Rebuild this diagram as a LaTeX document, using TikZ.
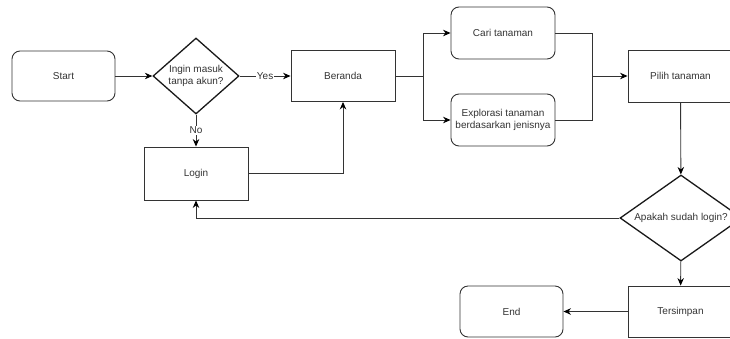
\documentclass[tikz,border=0pt]{standalone}
\usepackage{fontspec}
\setmainfont{Liberation Sans}
\usetikzlibrary{shapes.geometric,arrows.meta}

\tikzset{
	box/.style={draw=black!80, line width=0.9pt, minimum width=104pt, minimum height=52pt, inner sep=0pt, text=black!80, font=\fontsize{10}{12}\selectfont, align=center},
	roundbox/.style={box, rounded corners=8pt},
	decision/.style={draw=black!90, line width=1.3pt, diamond, inner sep=0pt, text=black!80, font=\fontsize{10}{12}\selectfont, align=center},
	flow/.style={draw=black!80, line width=0.9pt, ->},
	lbl/.style={fill=white, inner sep=1pt, text=black!80, font=\fontsize{10}{12}\selectfont},
	>={Stealth[length=7.5pt,width=6.5pt,color=black]}
}

\begin{document}
\begin{tikzpicture}[x=1pt, y=-1pt]
	\useasboundingbox (0,0) rectangle (730,338);
	\clip (0,0) rectangle (730,338);

	% Top row
	\node[roundbox, minimum width=103pt, minimum height=50pt] (start) at (63.5,76) {Start};
	\node[decision, aspect=1.13, minimum width=86pt, minimum height=76pt] (ingin) at (196,76) {Ingin masuk\\tanpa akun?};
	\node[box, minimum height=51pt] (beranda) at (343,76) {Beranda};
	\node[roundbox] (cari) at (503,33) {Cari tanaman};
	\node[roundbox] (explorasi) at (503,120) {Explorasi tanaman\\berdasarkan jenisnya};
	\node[box, minimum width=105pt] (pilih) at (680.5,76) {Pilih tanaman};

	% Lower part
	\node[box, minimum height=53pt] (login) at (196,173.5) {Login};
	\node[decision, aspect=1.42, minimum width=122pt, minimum height=86pt] (apakah) at (681,218) {Apakah sudah login?};
	\node[box, minimum width=105pt, minimum height=51pt] (tersimpan) at (680.5,311.5) {Tersimpan};
	\node[roundbox, minimum width=103pt, minimum height=51pt] (end) at (511.5,311.5) {End};

	% Junctions
	\coordinate (split) at (423,76);
	\coordinate (merge) at (592,76);

	% Arrows
	\draw[flow] (start) -- (ingin);
	\draw[flow] (ingin) -- node[lbl] {Yes} (beranda);
	\draw[flow] (ingin) -- node[lbl] {No} (login);
	\draw[draw=black!80, line width=0.9pt] (beranda) -- (split);
	\draw[flow] (split) |- (cari);
	\draw[flow] (split) |- (explorasi);
	\draw[draw=black!80, line width=0.9pt] (cari) -| (merge);
	\draw[draw=black!80, line width=0.9pt] (explorasi) -| (merge);
	\draw[flow] (merge) -- (pilih);
	\draw[flow] (pilih) -- (apakah);
	\draw[flow] (apakah) -- (tersimpan);
	\draw[flow] (tersimpan) -- (end);
	\draw[flow] (login) -| (beranda);
	\draw[flow] (apakah) -| (login);

\end{tikzpicture}
\end{document}
